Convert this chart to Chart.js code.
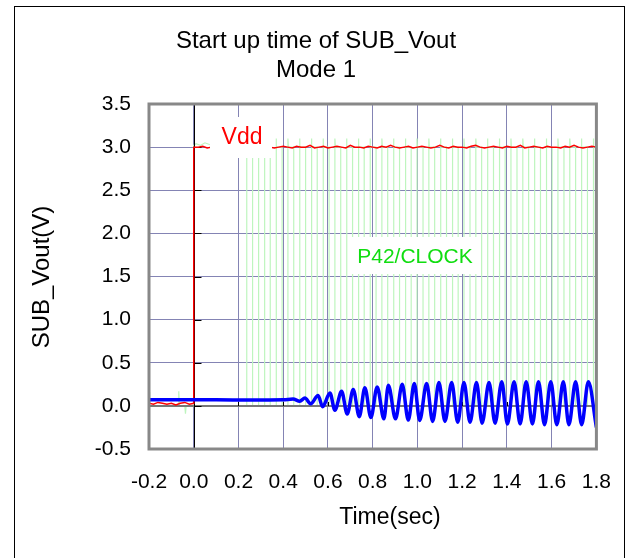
<!DOCTYPE html>
<html><head><meta charset="utf-8">
<script src="https://cdn.jsdelivr.net/npm/chart.js@4/dist/chart.umd.min.js"></script>
<style>html,body{margin:0;padding:0;background:#fff;overflow:hidden}#wrap{width:632px;height:558px;position:relative}</style>
</head><body><div id="wrap"><canvas id="c" width="632" height="558"></canvas></div>
<script>
// ---- text ----
const titleLines = ['Start up time of SUB_Vout', 'Mode 1'];
const xAxisTitle = 'Time(sec)';
const yAxisTitle = 'SUB_Vout(V)';
const vddLabel = 'Vdd';
const clockLabel = 'P42/CLOCK';

// ---- ticks ----
const xTickValues = [-0.2, 0.0, 0.2, 0.4, 0.6, 0.8, 1.0, 1.2, 1.4, 1.6, 1.8];
const yTickValues = [-0.5, 0.0, 0.5, 1.0, 1.5, 2.0, 2.5, 3.0, 3.5];

// ---- SUB_Vout (blue), read at flat parts and at each peak / trough ----
const voutTime = [-0.2, 0.0, 0.1, 0.25, 0.40,
  0.444, 0.474, 0.497, 0.523, 0.556, 0.576, 0.609, 0.631, 0.661, 0.686,
  0.713, 0.740, 0.765, 0.792, 0.820, 0.850, 0.870, 0.902, 0.932, 0.959,
  0.986, 1.010, 1.041, 1.068, 1.096, 1.123, 1.153, 1.180, 1.208, 1.235,
  1.264, 1.289, 1.320, 1.347, 1.377, 1.402, 1.432, 1.459, 1.486, 1.514,
  1.541, 1.568, 1.596, 1.623, 1.652, 1.677, 1.707, 1.734, 1.764, 1.800];
const voutValue = [0.07, 0.07, 0.07, 0.068, 0.07,
  0.08, 0.055, 0.09, 0.025, 0.12, -0.01, 0.15, -0.05, 0.17, -0.095,
  0.19, -0.125, 0.21, -0.135, 0.22, -0.15, 0.24, -0.15, 0.25, -0.165,
  0.26, -0.17, 0.26, -0.18, 0.27, -0.18, 0.27, -0.19, 0.27, -0.19,
  0.27, -0.20, 0.27, -0.20, 0.28, -0.21, 0.28, -0.21, 0.28, -0.21,
  0.28, -0.22, 0.28, -0.22, 0.28, -0.22, 0.28, -0.22, 0.28, -0.25];

// ---- Vdd (red) ----
const vddTime = [-0.2, -0.18, -0.16, -0.14, -0.12, -0.10, -0.08, -0.06, -0.04, -0.02, 0.0, 0.0,
  0.02, 0.04, 0.06, 0.08, 0.10, 0.12, 0.14, 0.16, 0.18, 0.20,
  0.22, 0.24, 0.26, 0.28, 0.30, 0.32, 0.34, 0.36, 0.38, 0.40,
  0.42, 0.44, 0.46, 0.48, 0.50, 0.52, 0.54, 0.56, 0.58, 0.60,
  0.62, 0.64, 0.66, 0.68, 0.70, 0.72, 0.74, 0.76, 0.78, 0.80,
  0.82, 0.84, 0.86, 0.88, 0.90, 0.92, 0.94, 0.96, 0.98, 1.00,
  1.02, 1.04, 1.06, 1.08, 1.10, 1.12, 1.14, 1.16, 1.18, 1.20,
  1.22, 1.24, 1.26, 1.28, 1.30, 1.32, 1.34, 1.36, 1.38, 1.40,
  1.42, 1.44, 1.46, 1.48, 1.50, 1.52, 1.54, 1.56, 1.58, 1.60,
  1.62, 1.64, 1.66, 1.68, 1.70, 1.72, 1.74, 1.76, 1.78, 1.80];
const vddValue = [0.03, 0.02, 0.04, 0.03, 0.02, 0.03, 0.01, 0.03, 0.04, 0.02, 0.03, 3.00,
  3.00, 3.01, 2.99, 3.00, 3.02, 2.99, 3.00, 3.01, 3.00, 2.99,
  3.01, 3.00, 2.98, 3.00, 3.01, 3.02, 3.00, 2.99, 3.00, 3.01,
  3.00, 2.99, 3.01, 3.00, 3.00, 3.02, 2.99, 3.00, 3.01, 2.99,
  3.00, 3.01, 3.00, 2.99, 3.02, 3.00, 3.00, 2.99, 3.01, 3.00,
  2.99, 3.01, 3.00, 3.02, 3.00, 2.99, 3.00, 3.01, 2.99, 3.00,
  3.01, 3.00, 2.99, 3.00, 3.02, 3.00, 2.99, 3.01, 3.00, 3.00,
  2.99, 3.01, 3.02, 3.00, 2.99, 3.00, 3.01, 3.00, 2.99, 3.01,
  3.00, 3.00, 3.02, 2.99, 3.00, 3.01, 3.00, 2.99, 3.01, 3.00,
  3.00, 2.99, 3.01, 3.00, 3.02, 3.00, 2.99, 3.00, 3.01, 3.00];

// ---- P42/CLOCK (green) ----
const clockPreTime = [-0.2, -0.198, -0.196, -0.07, -0.067, -0.064, -0.04, -0.037, -0.034, 0.0, 0.0, 0.01, 0.03, 0.05, 0.07, 0.10, 0.15, 0.20];
const clockPreValue = [0.0, 0.16, 0.0, 0.0, 0.17, 0.0, 0.0, -0.09, 0.0, 0.0, 3.02, 3.04, 3.02, 3.05, 3.03, 3.02, 3.03, 3.02];
const clockEdges = [0.237, 0.263, 0.290, 0.316, 0.342, 0.368, 0.395, 0.421, 0.447, 0.473,
  0.500, 0.526, 0.552, 0.578, 0.605, 0.631, 0.657, 0.683, 0.710, 0.736,
  0.762, 0.788, 0.815, 0.841, 0.867, 0.893, 0.920, 0.946, 0.972, 0.998,
  1.025, 1.051, 1.077, 1.103, 1.130, 1.156, 1.182, 1.208, 1.235, 1.261,
  1.287, 1.313, 1.340, 1.366, 1.392, 1.418, 1.445, 1.471, 1.497, 1.523,
  1.550, 1.576, 1.602, 1.628, 1.655, 1.681, 1.707, 1.733, 1.760, 1.786];
const clockHigh = 3.0;
const clockLow = 0.0;
const clockOvershoot = 3.1;

// ---- build point tables ----
const zip = (xs, ys) => xs.map((x, i) => ({x: x, y: ys[i]}));
const voutPts = zip(voutTime, voutValue);
const vddPts = zip(vddTime, vddValue);
const clockPts = zip(clockPreTime, clockPreValue);
let high = true;
clockEdges.forEach(e => {
  if (high) { clockPts.push({x: e, y: clockHigh}); clockPts.push({x: e, y: clockLow}); }
  else { clockPts.push({x: e, y: clockLow}); clockPts.push({x: e, y: clockOvershoot}); clockPts.push({x: e + 0.002, y: clockHigh}); }
  high = !high;
});
clockPts.push({x: 1.8, y: high ? clockHigh : clockLow});

const FONT = '"Liberation Sans", Arial, sans-serif';

const deco = {
  id: 'deco',
  beforeDraw(chart) {
    const ctx = chart.ctx;
    ctx.save();
    ctx.fillStyle = '#fff';
    ctx.fillRect(0, 0, chart.width, chart.height);
    ctx.strokeStyle = '#000';
    ctx.lineWidth = 1;
    ctx.strokeRect(14.5, 6.5, 610, 600);
    ctx.restore();
  },
  afterDatasetDraw(chart, args) {
    if (args.index !== 2) return;
    const ctx = chart.ctx, a = chart.chartArea;
    const xs = chart.scales.x, ys = chart.scales.y;
    const x0 = Math.round(xs.getPixelForValue(0)) + 0.5;
    const y0 = Math.round(ys.getPixelForValue(0));
    ctx.save();
    ctx.strokeStyle = '#777';
    ctx.lineWidth = 2;
    ctx.beginPath(); ctx.moveTo(a.left, y0); ctx.lineTo(a.right, y0); ctx.stroke();
    ctx.strokeStyle = '#000';
    ctx.lineWidth = 1;
    ctx.beginPath(); ctx.moveTo(x0, a.top); ctx.lineTo(x0, a.bottom); ctx.stroke();
    yTickValues.forEach(v => {
      const y = Math.round(ys.getPixelForValue(v)) + 0.5;
      ctx.beginPath(); ctx.moveTo(x0, y); ctx.lineTo(x0 + 7, y); ctx.stroke();
    });
    xTickValues.forEach(v => {
      const x = Math.round(xs.getPixelForValue(v)) + 0.5;
      ctx.beginPath(); ctx.moveTo(x, y0); ctx.lineTo(x, y0 - 4); ctx.stroke();
    });
    ctx.restore();
  },
  afterDatasetsDraw(chart) {
    const ctx = chart.ctx, a = chart.chartArea;
    ctx.save();
    // plot frame
    ctx.strokeStyle = '#888';
    ctx.lineWidth = 3;
    ctx.strokeRect(a.left, a.top, a.right - a.left, a.bottom - a.top);
    // in-plot labels with white boxes
    ctx.textAlign = 'center';
    ctx.textBaseline = 'middle';
    ctx.fillStyle = '#fff';
    ctx.fillRect(210, 117, 62, 41);
    ctx.fillStyle = '#ff0000';
    ctx.font = '23px ' + FONT;
    ctx.fillText(vddLabel, 242, 138);
    ctx.fillStyle = '#fff';
    ctx.fillRect(350, 237, 127, 37);
    ctx.fillStyle = '#11dd11';
    ctx.font = '21px ' + FONT;
    ctx.fillText(clockLabel, 415, 257);
    // axis titles
    ctx.fillStyle = '#000';
    ctx.font = '23px ' + FONT;
    ctx.fillText(xAxisTitle, 390, 518);
    ctx.translate(42, 277);
    ctx.rotate(-Math.PI / 2);
    ctx.font = '24px ' + FONT;
    ctx.fillText(yAxisTitle, 0, 0);
    ctx.restore();
  }
};

new Chart(document.getElementById('c'), {
  type: 'line',
  data: {
    datasets: [
      {label: 'SUB_Vout', data: voutPts, borderColor: '#0000ff', borderWidth: 3.5, pointRadius: 0, cubicInterpolationMode: 'monotone', fill: false},
      {label: 'Vdd', data: vddPts, borderColor: '#ff0000', borderWidth: 1.5, pointRadius: 0, tension: 0, fill: false},
      {label: 'P42/CLOCK', data: clockPts, borderColor: 'rgb(190,245,190)', borderWidth: 1.2, pointRadius: 0, tension: 0, fill: false}
    ]
  },
  options: {
    responsive: false,
    animation: false,
    devicePixelRatio: 1,
    layout: {padding: 0},
    plugins: {
      legend: {display: false},
      tooltip: {enabled: false},
      title: {
        display: true, text: titleLines, color: '#000',
        font: {family: FONT, size: 24, weight: 'normal', lineHeight: 1.2},
        padding: {top: 27, bottom: 19.4}
      }
    },
    scales: {
      x: {
        type: 'linear', min: -0.2, max: 1.8,
        afterBuildTicks: s => { s.ticks = xTickValues.map(v => ({value: v})); },
        afterFit: s => { s.height = 109; },
        ticks: {callback: v => Number(v).toFixed(1), color: '#000', font: {family: FONT, size: 21}, padding: 21, maxRotation: 0, autoSkip: false},
        grid: {color: '#8484b4', lineWidth: 1, drawTicks: false},
        border: {display: false}
      },
      y: {
        type: 'linear', min: -0.5, max: 3.5,
        afterBuildTicks: s => { s.ticks = yTickValues.map(v => ({value: v})); },
        afterFit: s => { s.width = 149; },
        ticks: {callback: v => Number(v).toFixed(1), color: '#000', font: {family: FONT, size: 21}, padding: 18, autoSkip: false},
        grid: {color: '#8484b4', lineWidth: 1, drawTicks: false},
        border: {display: false}
      },
      y2: {
        type: 'linear', position: 'right', min: 0, max: 1,
        afterFit: s => { s.width = 35; },
        ticks: {display: false},
        grid: {display: false},
        border: {display: false}
      }
    }
  },
  plugins: [deco]
});
</script>
</body></html>
